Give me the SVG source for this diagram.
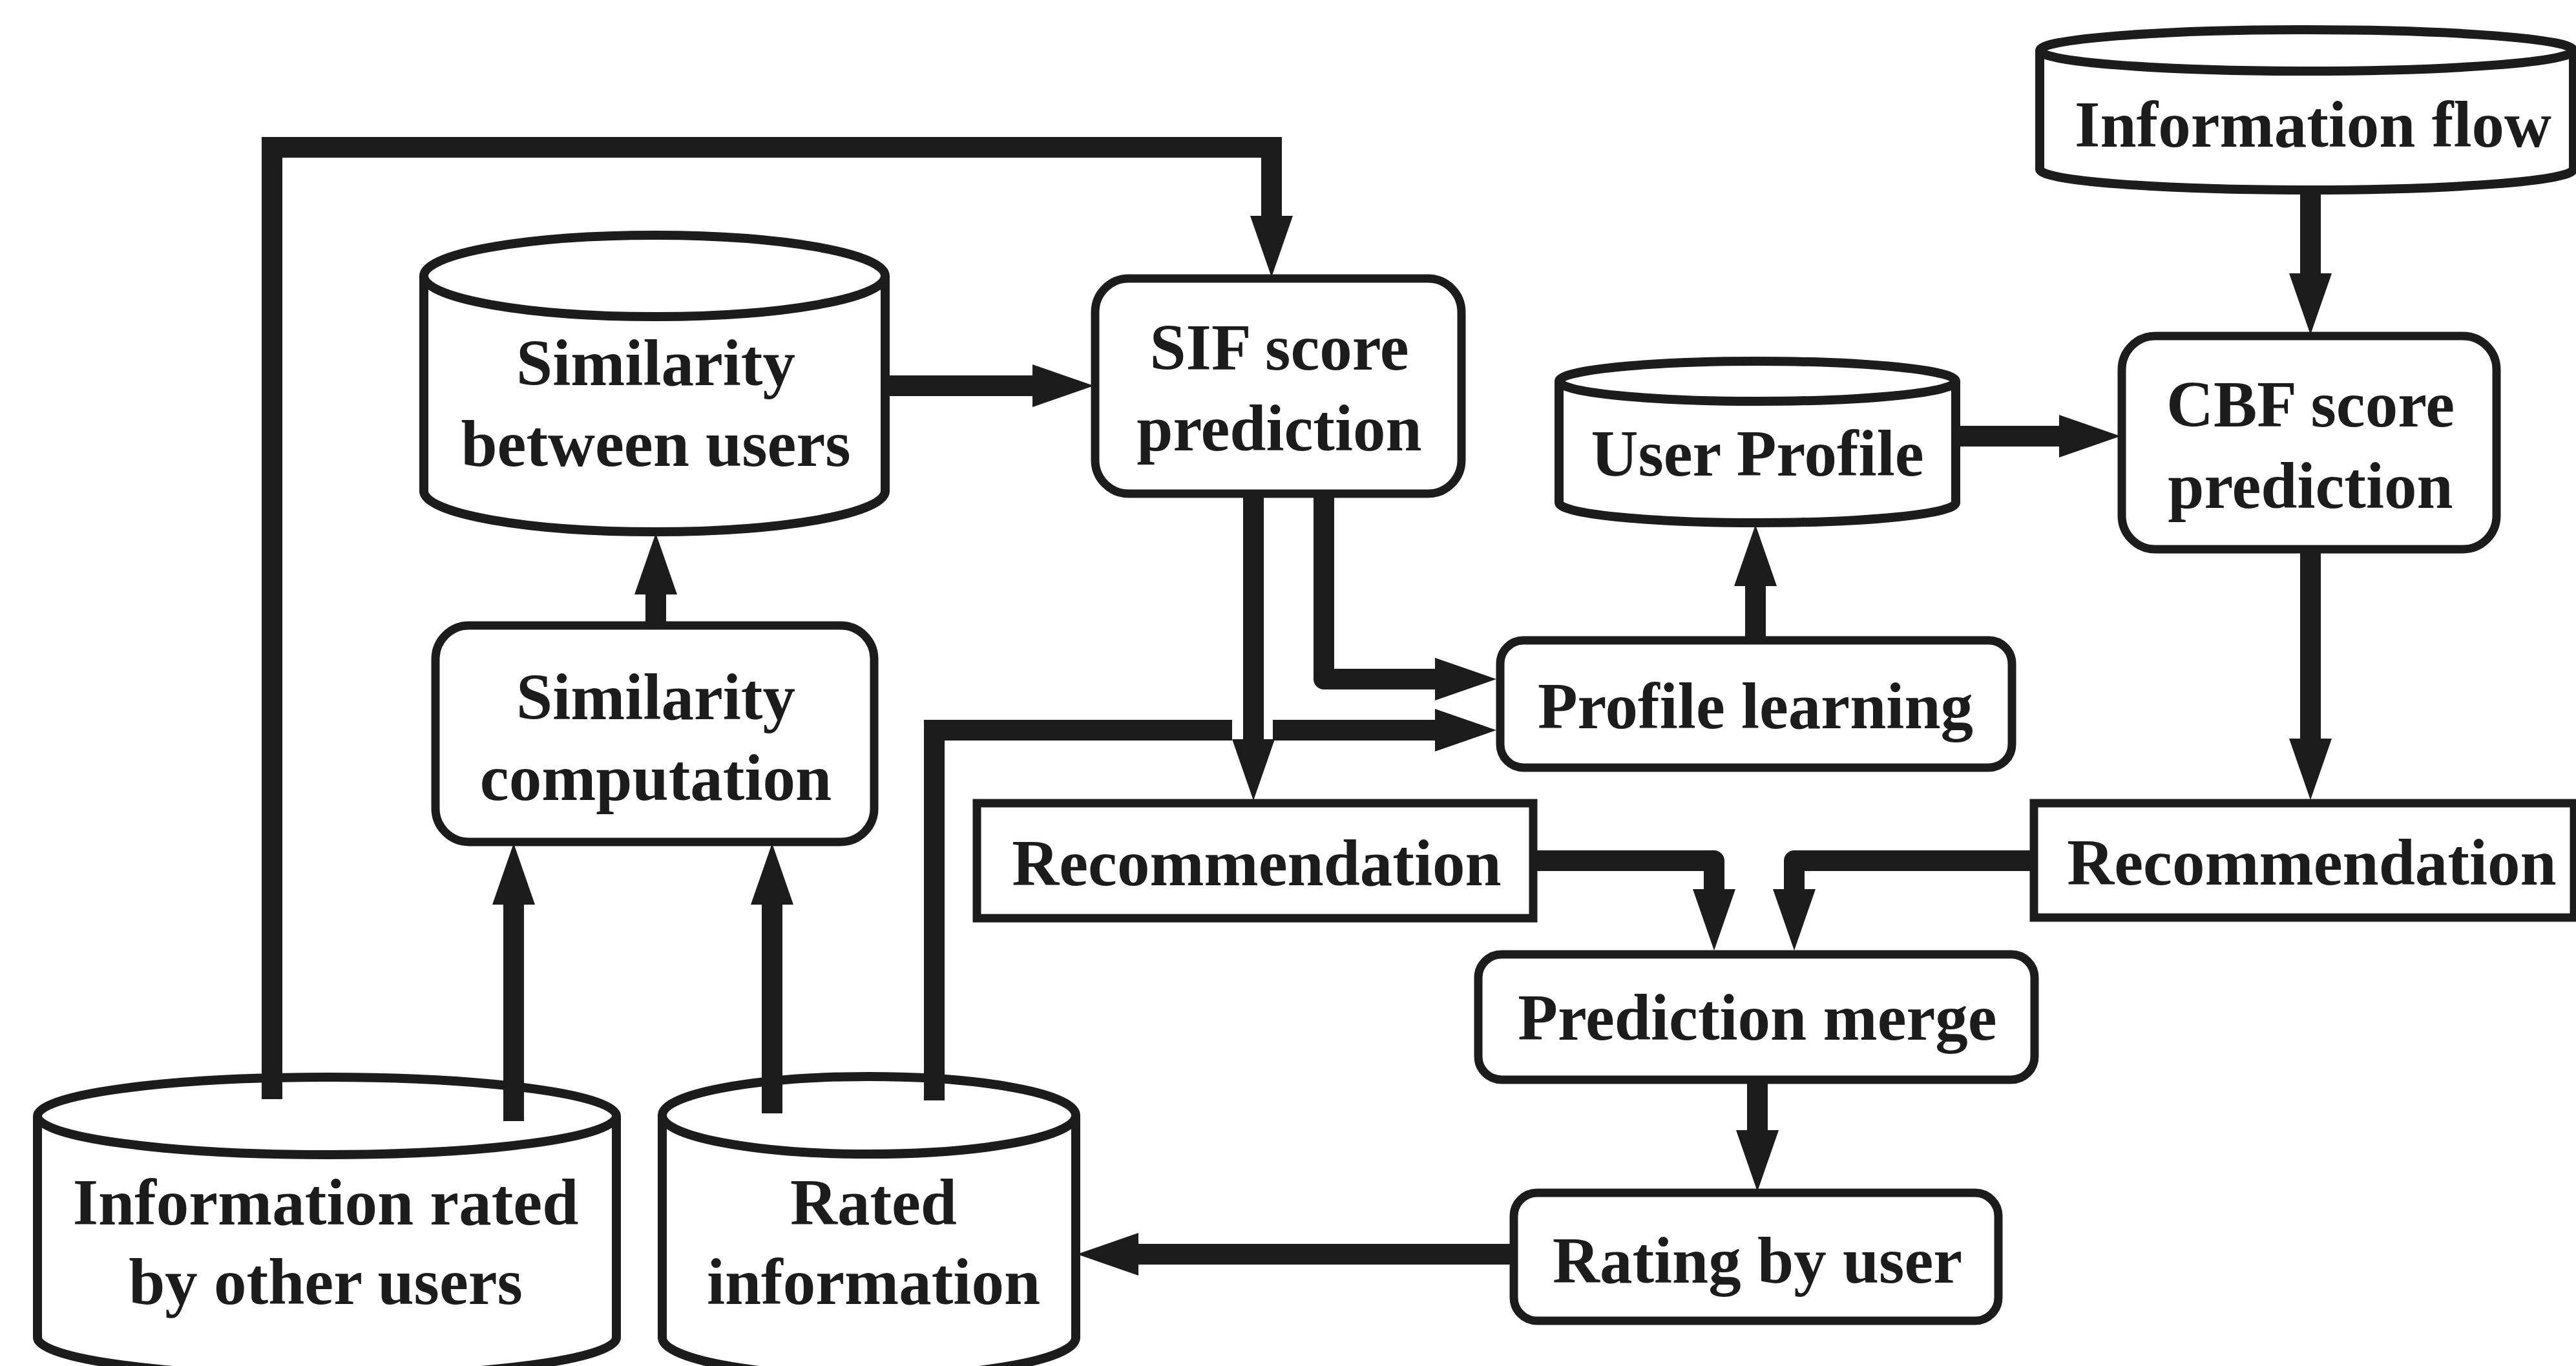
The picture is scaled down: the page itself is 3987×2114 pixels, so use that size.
<svg xmlns="http://www.w3.org/2000/svg" width="3987" height="2114" viewBox="0 0 3987 2114">
  <defs>
    <style>
      .node { fill: #ffffff; stroke: #1c1c1c; stroke-width: 13; }
      .cyl { fill: #ffffff; stroke: #1c1c1c; stroke-width: 14; }
      .lbl { font-family: "Liberation Serif", "Times New Roman", serif; font-weight: bold; font-size: 101px; fill: #1c1c1c; text-anchor: middle; }
      .wire { fill: none; stroke: #1c1c1c; stroke-width: 32; stroke-linecap: butt; stroke-linejoin: miter; }
      .wire.soft { stroke-linejoin: round; }
    </style>
    <marker id="head" markerUnits="userSpaceOnUse" markerWidth="100" markerHeight="70" refX="2" refY="33" orient="auto" overflow="visible">
      <path d="M0,0 L95,33 L0,66 Z" fill="#1c1c1c"/>
    </marker>
  </defs>

  <rect x="0" y="0" width="3987" height="2114" fill="#ffffff"/>

  <!-- data stores (cylinders) -->
  <g id="info-flow">
    <path class="cyl" d="M3157,78 V262 A413,32 0 0 0 3983,262 V78"/>
    <ellipse class="cyl" cx="3570" cy="78" rx="413" ry="32"/>
    <text class="lbl" x="3580" y="227">Information flow</text>
  </g>

  <g id="similarity-between-users">
    <path class="cyl" d="M656,427 V760 A357,63 0 0 0 1370,760 V427"/>
    <ellipse class="cyl" cx="1013" cy="427" rx="357" ry="63"/>
    <text class="lbl" x="1015" y="596">Similarity</text>
    <text class="lbl" x="1015" y="721">between users</text>
  </g>

  <g id="user-profile">
    <path class="cyl" d="M2413,590 V778 A307,31 0 0 0 3027,778 V590"/>
    <ellipse class="cyl" cx="2720" cy="590" rx="307" ry="31"/>
    <text class="lbl" x="2720" y="736">User Profile</text>
  </g>

  <g id="info-rated-by-others">
    <path class="cyl" d="M58,1727 V2070 A448,60 0 0 0 954,2070 V1727"/>
    <ellipse class="cyl" cx="506" cy="1727" rx="448" ry="60"/>
    <text class="lbl" x="504" y="1895">Information rated</text>
    <text class="lbl" x="504" y="2018">by other users</text>
  </g>

  <g id="rated-info">
    <path class="cyl" d="M1025,1726 V2070 A320,60 0 0 0 1665,2070 V1726"/>
    <ellipse class="cyl" cx="1345" cy="1726" rx="320" ry="60"/>
    <text class="lbl" x="1352" y="1895">Rated</text>
    <text class="lbl" x="1352" y="2018">information</text>
  </g>

  <!-- processing steps -->
  <g id="sif-score">
    <rect class="node" x="1695" y="431" width="567" height="333" rx="52"/>
    <text class="lbl" x="1980" y="572">SIF score</text>
    <text class="lbl" x="1980" y="697">prediction</text>
  </g>

  <g id="cbf-score">
    <rect class="node" x="3284" y="520" width="580" height="330" rx="52"/>
    <text class="lbl" x="3576" y="660">CBF score</text>
    <text class="lbl" x="3576" y="786">prediction</text>
  </g>

  <g id="similarity-computation">
    <rect class="node" x="674" y="968" width="679" height="335" rx="52"/>
    <text class="lbl" x="1015" y="1113">Similarity</text>
    <text class="lbl" x="1015" y="1238">computation</text>
  </g>

  <g id="profile-learning">
    <rect class="node" x="2322" y="991" width="792" height="197" rx="36"/>
    <text class="lbl" x="2717" y="1127">Profile learning</text>
  </g>

  <g id="recommendation-sif">
    <rect class="node" x="1512" y="1243" width="861" height="178"/>
    <text class="lbl" x="1945" y="1370">Recommendation</text>
  </g>

  <g id="recommendation-cbf">
    <rect class="node" x="3148" y="1243" width="836" height="177"/>
    <text class="lbl" x="3578" y="1369">Recommendation</text>
  </g>

  <g id="prediction-merge">
    <rect class="node" x="2288" y="1477" width="861" height="194" rx="36"/>
    <text class="lbl" x="2720" y="1609">Prediction merge</text>
  </g>

  <g id="rating-by-user">
    <rect class="node" x="2343" y="1846" width="750" height="198" rx="36"/>
    <text class="lbl" x="2720" y="1985">Rating by user</text>
  </g>

  <!-- connectors -->
  <g id="connectors">
    <!-- other users' ratings feed SIF directly -->
    <path class="wire" d="M421,1701 V228 H1968 V336" marker-end="url(#head)"/>
    <path class="wire" d="M1371,597 H1600" marker-end="url(#head)"/>
    <path class="wire" d="M1015,968 V918" marker-end="url(#head)"/>
    <path class="wire" d="M795,1735 V1398" marker-end="url(#head)"/>
    <path class="wire" d="M1195,1723 V1398" marker-end="url(#head)"/>
    <!-- SIF outputs -->
    <path class="wire" d="M1940,764 V1146" marker-end="url(#head)"/>
    <path class="wire soft" d="M2049,764 V1051 H2223" marker-end="url(#head)"/>
    <!-- rated information to profile learning, broken where it crosses -->
    <path class="wire" d="M1446,1703 V1130 H1907"/>
    <path class="wire" d="M1970,1130 H2223" marker-end="url(#head)"/>
    <path class="wire" d="M2717,991 V905" marker-end="url(#head)"/>
    <!-- CBF branch -->
    <path class="wire" d="M3576,294 V425" marker-end="url(#head)"/>
    <path class="wire" d="M3027,675 H3189" marker-end="url(#head)"/>
    <path class="wire" d="M3576,850 V1145" marker-end="url(#head)"/>
    <!-- merge and feedback -->
    <path class="wire soft" d="M2373,1332 H2653 V1378" marker-end="url(#head)"/>
    <path class="wire soft" d="M3148,1332 H2777 V1378" marker-end="url(#head)"/>
    <path class="wire" d="M2720,1671 V1751" marker-end="url(#head)"/>
    <path class="wire" d="M2343,1941 H1760" marker-end="url(#head)"/>
  </g>
</svg>
